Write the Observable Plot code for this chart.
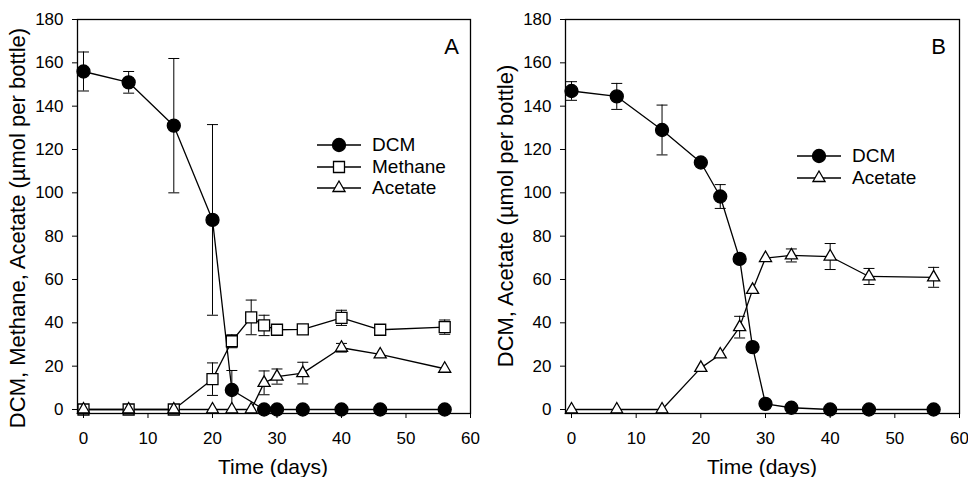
<!DOCTYPE html>
<html>
<head>
<meta charset="utf-8">
<script src="https://cdn.jsdelivr.net/npm/d3@7"></script>
<script src="https://cdn.jsdelivr.net/npm/@observablehq/plot@0.6"></script>
<style>
  body { margin: 0; background: white; }
  #wrap { position: relative; width: 968px; height: 477px; font-family: "Liberation Sans", Arial, sans-serif; color: black; overflow: hidden; }
  .panel { position: absolute; top: 0; }
  .lab { position: absolute; white-space: nowrap; line-height: 1; }
  .leg { position: absolute; font-size: 19px; line-height: 1; white-space: nowrap; }
</style>
</head>
<body>
<div id="wrap"></div>
<script>
// ---------- data ----------
const xTicks = [0, 10, 20, 30, 40, 50, 60];
const yTicks = [0, 20, 40, 60, 80, 100, 120, 140, 160, 180];

// Panel A
const daysA_DCM = [0, 7, 14, 20, 23, 28, 30, 34, 40, 46, 56];
const dcmA      = [156, 151, 131, 87.5, 9, 0, 0, 0, 0, 0, 0];
const dcmA_err  = [9, 5, 31, 44, 9, 0, 0, 0, 0, 0, 0];

const daysA_CH4   = [0, 7, 14, 20, 23, 26, 28, 30, 34, 40, 46, 56];
const methaneA    = [0, 0, 0, 14, 31.5, 42.5, 38.8, 36.8, 37, 42.3, 36.8, 38];
const methaneA_err = [0, 0, 0, 7.5, 3, 8, 4.7, 0, 0, 3.5, 0, 3.3];

const daysA_Ac    = [0, 7, 14, 20, 23, 26, 28, 30, 34, 40, 46, 56];
const acetateA    = [0, 0, 0, 0, 0, 0, 12.3, 15.2, 16.8, 28.5, 25.4, 18.8];
const acetateA_err = [0, 0, 0, 0, 0, 0, 5.5, 3.5, 5, 2, 0, 0];

// Panel B
const daysB       = [0, 7, 14, 20, 23, 26, 28, 30, 34, 40, 46, 56];
const dcmB        = [147, 144.5, 129, 114, 98.3, 69.5, 28.8, 2.6, 0.8, 0, 0, 0];
const dcmB_err    = [4.3, 6, 11.5, 0, 5.5, 0, 0, 0, 0, 0, 0, 0];
const acetateB    = [0, 0, 0, 19.2, 25.4, 38, 55.2, 69.9, 71.1, 70.6, 61.4, 61];
const acetateB_err = [0, 0, 0, 0, 0, 5, 0, 0, 3, 6, 3.7, 4.6];

const labelsA = ["DCM", "Methane", "Acetate"];
const labelsB = ["DCM", "Acetate"];
const yTitleA = "DCM, Methane, Acetate (\u00b5mol per bottle)";
const yTitleB = "DCM, Acetate (\u00b5mol per bottle)";
const xTitle = "Time (days)";

// ---------- styles ----------
const styles = {
  DCM:     { symbol: "circle",   r: 6.5, fill: "black" },
  Methane: { symbol: "square",   r: 6.2, fill: "white" },
  Acetate: { symbol: "triangle", r: 4.5, fill: "white" }
};

const capSymbol = {
  draw(ctx, size) {
    const w = Math.sqrt(size / Math.PI);
    ctx.moveTo(-w, 0);
    ctx.lineTo(w, 0);
  }
};

function rows(days, vals, errs) {
  return days.map((d, i) => ({ day: d, v: vals[i], e: errs[i] }));
}

function panel(series, letter, width, ml, mr, letterDx) {
  const marks = [];
  for (const s of series) {
    const errs = s.data.filter(d => d.e > 0);
    marks.push(Plot.ruleX(errs, { x: "day", y1: d => d.v - d.e, y2: d => d.v + d.e, stroke: "black", strokeWidth: 1 }));
    marks.push(Plot.dot(errs, { x: "day", y: d => d.v + d.e, symbol: capSymbol, r: 5.5, stroke: "black", strokeWidth: 1, fill: "none" }));
    marks.push(Plot.dot(errs, { x: "day", y: d => d.v - d.e, symbol: capSymbol, r: 5.5, stroke: "black", strokeWidth: 1, fill: "none" }));
  }
  for (const s of series) {
    marks.push(Plot.line(s.data, { x: "day", y: "v", stroke: "black", strokeWidth: 1.3 }));
  }
  for (const s of series) {
    const st = styles[s.name];
    marks.push(Plot.dot(s.data, { x: "day", y: "v", symbol: st.symbol, r: st.r, fill: st.fill, stroke: "black", strokeWidth: 1.3 }));
  }
  marks.push(Plot.frame({ stroke: "black", strokeWidth: 1.3 }));
  marks.push(Plot.axisX({ ticks: xTicks, tickSize: 5, tickPadding: 13, label: null, fontSize: 17 }));
  marks.push(Plot.axisY({ ticks: yTicks, tickSize: 5, tickPadding: 9, label: null, fontSize: 17 }));
  marks.push(Plot.text([letter], { text: d => d, frameAnchor: "top-right", dx: letterDx, dy: 27, textAnchor: "middle", lineAnchor: "middle", fontSize: 22, fill: "black" }));
  return Plot.plot({
    width, height: 477,
    marginLeft: ml, marginRight: mr, marginTop: 19, marginBottom: 64,
    x: { domain: [-0.93, 60], axis: null },
    y: { domain: [-1.85, 180], axis: null },
    style: { fontFamily: "Liberation Sans, Arial, sans-serif", fontSize: "17px", color: "black", background: "white", overflow: "visible" },
    marks
  });
}

const wrap = document.getElementById("wrap");

const seriesA = [
  { name: "DCM", data: rows(daysA_DCM, dcmA, dcmA_err) },
  { name: "Methane", data: rows(daysA_CH4, methaneA, methaneA_err) },
  { name: "Acetate", data: rows(daysA_Ac, acetateA, acetateA_err) }
];
const seriesB = [
  { name: "DCM", data: rows(daysB, dcmB, dcmB_err) },
  { name: "Acetate", data: rows(daysB, acetateB, acetateB_err) }
];

const pA = panel(seriesA, "A", 484, 77, 14, -19);
pA.classList.add("panel"); pA.style.left = "0px";
wrap.appendChild(pA);
const pB = panel(seriesB, "B", 484, 81, 9, -21);
pB.classList.add("panel"); pB.style.left = "484px";
wrap.appendChild(pB);

// axis titles
function addLabel(text, cx, cy, rotate, size) {
  const d = document.createElement("div");
  d.className = "lab";
  d.textContent = text;
  d.style.fontSize = size + "px";
  d.style.left = cx + "px";
  d.style.top = cy + "px";
  d.style.transform = "translate(-50%,-50%)" + (rotate ? " rotate(-90deg)" : "");
  wrap.appendChild(d);
}
addLabel(yTitleA, 18, 228, true, 22);
addLabel(yTitleB, 506, 216, true, 22);
addLabel(xTitle, 273, 466, false, 21);
addLabel(xTitle, 762, 466, false, 21);

// legends
function addLegend(labels, x0, y0, dy) {
  labels.forEach((name, i) => {
    const y = y0 + i * dy;
    const st = styles[name];
    const svg = d3.create("svg").attr("width", 50).attr("height", 20)
      .style("position", "absolute").style("left", (x0 - 3) + "px").style("top", (y - 10) + "px").style("overflow", "visible");
    svg.append("line").attr("x1", 3).attr("x2", 47).attr("y1", 10).attr("y2", 10).attr("stroke", "black").attr("stroke-width", 1.3);
    const sym = { circle: d3.symbolCircle, square: d3.symbolSquare, triangle: d3.symbolTriangle }[st.symbol];
    svg.append("path").attr("transform", "translate(25,10)")
      .attr("d", d3.symbol(sym, st.r * st.r * Math.PI)())
      .attr("fill", st.fill).attr("stroke", "black").attr("stroke-width", 1.3);
    wrap.appendChild(svg.node());
    const t = document.createElement("div");
    t.className = "leg";
    t.textContent = name;
    t.style.left = (x0 + 55) + "px";
    t.style.top = (y - 10) + "px";
    wrap.appendChild(t);
  });
}
addLegend(labelsA, 317, 145, 21.5);
addLegend(labelsB, 797, 156, 22);
</script>
</body>
</html>
